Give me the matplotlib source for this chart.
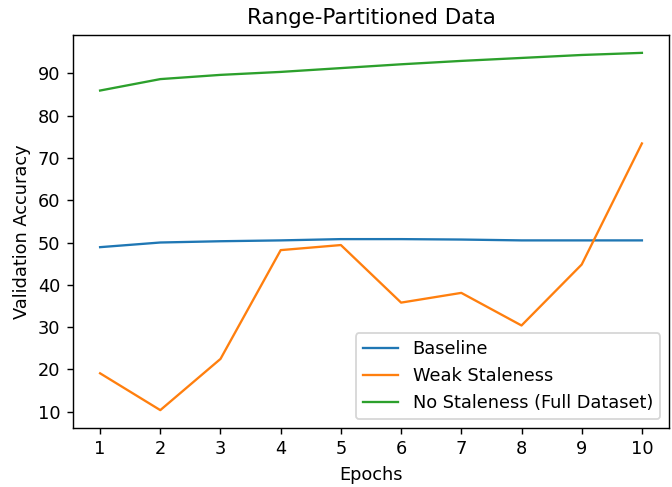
import numpy as np
import matplotlib
matplotlib.use("Agg")
import matplotlib.pyplot as plt

epochs = [1, 2, 3, 4, 5, 6, 7, 8, 9, 10]
baseline = [48.9, 50.0, 50.3, 50.5, 50.8, 50.8, 50.7, 50.5, 50.5, 50.5]
weak_staleness = [19.1, 10.4, 22.5, 48.2, 49.4, 35.8, 38.1, 30.4, 44.8, 73.4]
no_staleness = [85.9, 88.6, 89.6, 90.3, 91.2, 92.1, 92.9, 93.6, 94.3, 94.8]
y_ticks = [10, 20, 30, 40, 50, 60, 70, 80, 90]

DPI = 128
fig = plt.figure(figsize=(672 / DPI, 487 / DPI), dpi=DPI)
ax = fig.add_axes([73 / 672, 1 - 428 / 487, (669 - 73) / 672, (428 - 35) / 487])

ax.plot(epochs, baseline, label="Baseline", lw=1.3)
ax.plot(epochs, weak_staleness, label="Weak Staleness", lw=1.3)
ax.plot(epochs, no_staleness, label="No Staleness (Full Dataset)", lw=1.3)

ax.set_xticks(epochs)
ax.set_yticks(y_ticks)
ax.set_title("Range-Partitioned Data")
ax.set_xlabel("Epochs")
ax.set_ylabel("Validation Accuracy")
ax.legend(loc="lower right")

fig.savefig("out.png", dpi=DPI)
